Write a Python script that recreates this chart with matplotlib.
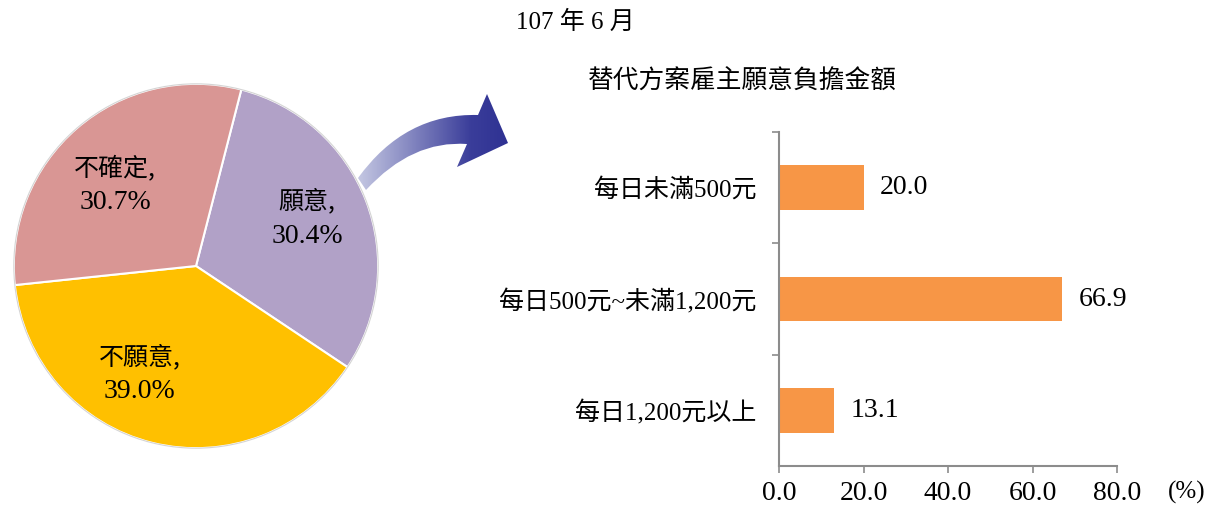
import numpy as np
import matplotlib
matplotlib.use("Agg")
import matplotlib.pyplot as plt
from matplotlib.path import Path
from matplotlib.patches import PathPatch
from matplotlib.colors import LinearSegmentedColormap

plt.rcParams['font.family'] = ['Liberation Serif', 'Noto Sans CJK TC', 'DejaVu Sans']

# ---------------- data ----------------
pie_labels = ['願意', '不願意', '不確定']
pie_values = [30.4, 39.0, 30.7]
pie_colors = ['#b1a1c7', '#ffc000', '#d99694']
pie_label_pos = [(0.61, 0.258), (-0.31, -0.595), (-0.443, 0.443)]

bar_categories = ['每日未滿500元', '每日500元~未滿1,200元', '每日1,200元以上']
bar_values = [20.0, 66.9, 13.1]
bar_color = '#f79646'
x_ticks = [0, 20, 40, 60, 80]
x_ticklabels = ['0.0', '20.0', '40.0', '60.0', '80.0']

title_date = '107 年 6 月'
title_bar = '替代方案雇主願意負擔金額'
unit_label = '(%)'

W, H = 1208, 511
fig = plt.figure(figsize=(W / 100, H / 100), dpi=100)

# ---------------- overlay (arrow + titles) ----------------
ov = fig.add_axes([0, 0, 1, 1])
ov.set_zorder(0)
ov.patch.set_alpha(0)
verts = [(358, 178), (405, 113), (478, 115),
         (487, 94), (508, 143), (457, 167), (467, 144),
         (412, 140), (366, 190), (358, 178)]
codes = [Path.MOVETO, Path.CURVE3, Path.CURVE3,
         Path.LINETO, Path.LINETO, Path.LINETO, Path.LINETO,
         Path.CURVE3, Path.CURVE3, Path.CLOSEPOLY]
arrow_path = Path(verts, codes)
patch = PathPatch(arrow_path, facecolor='none', edgecolor='none')
ov.add_patch(patch)
cmap = LinearSegmentedColormap.from_list('arr', [(0, '#c8cbe4'), (0.75, '#3a3d9a'), (1, '#2e3192')])
grad = np.linspace(0, 1, 256).reshape(1, -1)
im = ov.imshow(grad, cmap=cmap, extent=[355, 510, 195, 90], aspect='auto', interpolation='bilinear')
im.set_clip_path(patch)
ov.set_xlim(0, W)
ov.set_ylim(H, 0)
ov.axis('off')

fig.text(575 / W, 1 - 22 / H, title_date, ha='center', va='center', fontsize=18,
         family=['Liberation Serif', 'Noto Sans CJK TC'])
fig.text(742 / W, 1 - 82 / H, title_bar, ha='center', va='center', fontsize=18.5,
         family=['Noto Sans CJK TC'])
fig.text(1187 / W, 1 - 492 / H, unit_label, ha='center', va='center', fontsize=18,
         family=['Liberation Serif'])

# ---------------- pie ----------------
cx, cy, R = 196, 266, 184
pax = fig.add_axes([(cx - R) / W, (H - cy - R) / H, 2 * R / W, 2 * R / H])
pax.set_zorder(2)
pax.patch.set_alpha(0)
wedges, _ = pax.pie(pie_values, colors=pie_colors, startangle=75.6, counterclock=False,
                    radius=1, wedgeprops=dict(edgecolor='white', linewidth=1.5))
pax.add_patch(plt.Circle((0, 0), 1.0, fill=False, edgecolor='#d4d4d4', linewidth=0.8))
for lab, val, (lx, ly) in zip(pie_labels, pie_values, pie_label_pos):
    pax.text(lx, ly + 0.095, lab + ',', ha='center', va='center', fontsize=18,
             family=['Noto Sans CJK TC'])
    pax.text(lx, ly - 0.095, f'{val:.1f}%', ha='center', va='center', fontsize=20,
             family=['Liberation Serif'])
pax.set_xlim(-1.01, 1.01)
pax.set_ylim(-1.01, 1.01)
pax.set_aspect('auto')
pax.axis('off')

# ---------------- bar ----------------
bl, br, bt, bb = 779, 1117, 132, 466
bax = fig.add_axes([bl / W, (H - bb) / H, (br - bl) / W, (bb - bt) / H])
bax.set_zorder(1)
bax.patch.set_alpha(0)
ypos = np.arange(len(bar_categories))
bars = bax.barh(ypos, bar_values, height=0.4, color=bar_color)
bax.set_ylim(len(bar_categories) - 0.5, -0.5)
bax.set_xlim(0, 80)
for y, v in zip(ypos, bar_values):
    bax.annotate(f'{v:.1f}', (v, y), xytext=(12, 0), textcoords='offset points',
                 ha='left', va='center', fontsize=20, family=['Liberation Serif'])
bax.set_yticks(ypos)
bax.set_yticklabels(bar_categories, fontsize=18)
bax.set_yticks(np.arange(-0.5, len(bar_categories) - 0.5, 1.0), minor=True)
bax.tick_params(axis='y', which='major', length=0, pad=16)
bax.tick_params(axis='y', which='minor', length=5, width=1.2, color='#8c8c8c', direction='out')
bax.set_xticks(x_ticks)
bax.set_xticklabels(x_ticklabels, fontsize=20, family=['Liberation Serif'])
bax.tick_params(axis='x', length=5, width=1.2, color='#8c8c8c', direction='out', pad=6)
for s in ['top', 'right']:
    bax.spines[s].set_visible(False)
for s in ['left', 'bottom']:
    bax.spines[s].set_color('#8c8c8c')
    bax.spines[s].set_linewidth(1.5)

fig.savefig('out.png', dpi=100)
